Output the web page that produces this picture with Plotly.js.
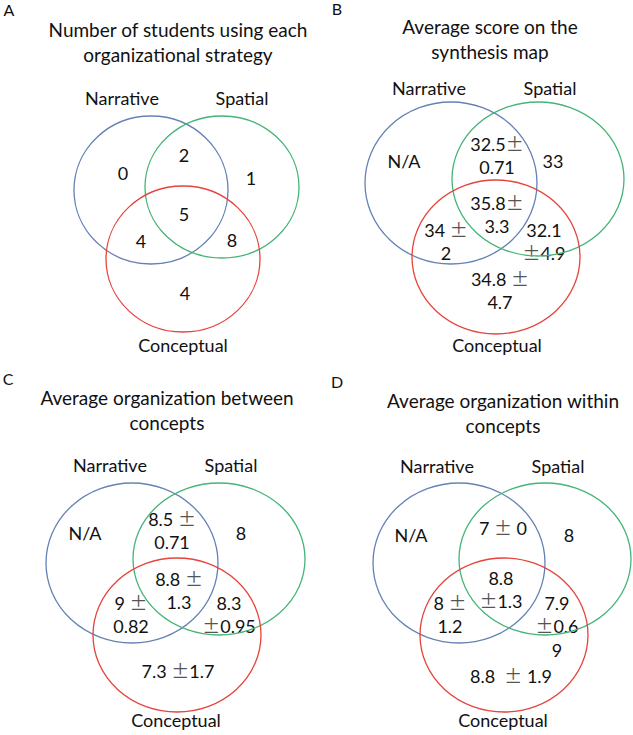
<!DOCTYPE html>
<html><head><meta charset="utf-8">
<script src="https://cdn.plot.ly/plotly-3.0.1.min.js"></script>
<style>html,body{margin:0;padding:0;background:#fff}#chart{width:633px;height:735px}</style>
</head><body><div id="chart"></div>
<script>
// ---------------- DATA ----------------
const setNames = ['Narrative', 'Spatial', 'Conceptual'];
const panelLetters = ['A', 'B', 'C', 'D'];
const panelTitles = [
  'Number of students using each<br>organizational strategy',
  'Average score on the<br>synthesis map',
  'Average organization between<br>concepts',
  'Average organization within<br>concepts'
];
// regions: N only, S only, C only, N∩S, N∩C, S∩C, N∩S∩C
const regions = ['N', 'S', 'C', 'NS', 'NC', 'SC', 'NSC'];
const studentCounts = [0, 1, 4, 2, 4, 8, 5];
const scoreMean = [null, '33', '34.8', '32.5', '34', '32.1', '35.8'];
const scoreSD   = [null, null, '4.7', '0.71', '2', '4.9', '3.3'];
const betweenMean = [null, '8', '7.3', '8.5', '9', '8.3', '8.8'];
const betweenSD   = [null, null, '1.7', '0.71', '0.82', '0.95', '1.3'];
const withinMean = [null, '8', '8.8', '7', '8', '7.9', '8.8'];
const withinSD   = [null, null, '1.9', '0', '1.2', '0.69', '1.3'];

// ---------------- LAYOUT (geometry, formatting) ----------------
const PM = '<span style="font-family:\'Noto Sans CJK JP\';color:#555">\u00B1</span>';
const fmt = {
  plain: (m, s) => String(m),
  na: (m, s) => 'N/A',
  brAfter: (m, s) => m + PM + '<br>' + s,
  brAfterSp: (m, s) => m + ' ' + PM + '<br>' + s,
  brBefore: (m, s) => m + '<br>' + PM + s,
  inline: (m, s) => m + ' ' + PM + s,
  inlineSp: (m, s) => m + ' ' + PM + ' ' + s,
  inlineSp2: (m, s) => m + '  ' + PM + ' ' + s,
  wrap3: (m, s) => m + '<br>' + PM + s.slice(0, 3) + '<br>' + s.slice(3)
};

const panels = [
  { // A
    letter: [9, 12], title: [178, 45], labels: [[122, 100], [242, 100], [183, 347]],
    circles: [[151, 190, 77, 74], [222, 187, 77, 71], [183, 259, 77, 73]],
    mean: studentCounts, sd: studentCounts.map(() => null),
    forms: ['plain', 'plain', 'plain', 'plain', 'plain', 'plain', 'plain'],
    pos: [[123, 175], [251, 180], [185, 295], [184, 157], [141, 243], [232, 242], [184, 216]]
  },
  { // B
    letter: [337, 11], title: [490, 42], labels: [[429, 90], [550, 90], [497, 347]],
    circles: [[451, 183, 86, 81], [538, 179, 86, 77], [496, 257, 84, 77]],
    mean: scoreMean, sd: scoreSD,
    forms: ['na', 'plain', 'brAfterSp', 'brAfter', 'brAfterSp', 'brBefore', 'brAfter'],
    pos: [[404, 163], [553, 163], [500, 293], [497, 158], [446, 244], [544, 244], [497, 217]]
  },
  { // C
    letter: [8, 381], title: [167, 413], labels: [[110, 467], [231, 467], [176, 722]],
    circles: [[132, 563, 86, 80], [219, 559, 86, 76], [177, 635, 84, 77]],
    mean: betweenMean, sd: betweenSD,
    forms: ['na', 'plain', 'inline', 'brAfterSp', 'brAfterSp', 'brBefore', 'brAfterSp'],
    pos: [[85, 535], [241, 535], [178, 673], [172, 533], [131, 617], [229, 617], [179, 593]]
  },
  { // D
    letter: [337, 384], title: [503, 416], labels: [[437, 468], [558, 468], [503, 722]],
    circles: [[459, 563, 86, 80], [545, 559, 86, 76], [504, 635, 84, 77]],
    mean: withinMean, sd: withinSD,
    forms: ['na', 'plain', 'inlineSp2', 'inlineSp', 'brAfterSp', 'wrap3', 'brBefore'],
    pos: [[411, 537], [569, 537], [511, 678], [503, 530], [450, 617], [557, 629], [501, 592]]
  }
];

const colors = ['#6482B4', '#45B477', '#E6433B'];
const FONT = 'Lato, "Open Sans", "Noto Sans CJK SC", sans-serif';
const TXT = '#111';

const traces = [];
const shapes = [];
panels.forEach((p, pi) => {
  p.circles.forEach((c, ci) => {
    shapes.push({ type: 'circle', xref: 'x', yref: 'y',
      x0: c[0] - c[2], x1: c[0] + c[2], y0: c[1] - c[3], y1: c[1] + c[3],
      line: { color: colors[ci], width: 1.3 }, fillcolor: 'rgba(0,0,0,0)', layer: 'above' });
  });
  traces.push({
    type: 'scatter', mode: 'text', hoverinfo: 'skip', showlegend: false,
    x: p.pos.map(q => q[0]), y: p.pos.map(q => q[1]),
    text: regions.map((r, ri) => fmt[p.forms[ri]](p.mean[ri], p.sd[ri])),
    textposition: 'middle center',
    textfont: { family: FONT, size: 18, color: TXT }
  });
  traces.push({
    type: 'scatter', mode: 'text', hoverinfo: 'skip', showlegend: false,
    x: p.labels.map(q => q[0]), y: p.labels.map(q => q[1]),
    text: setNames, textposition: 'middle center',
    textfont: { family: FONT, size: 18, color: TXT }
  });
  traces.push({
    type: 'scatter', mode: 'text', hoverinfo: 'skip', showlegend: false,
    x: [p.title[0]], y: [p.title[1]], text: [panelTitles[pi]], textposition: 'middle center',
    textfont: { family: FONT, size: 19, color: TXT }
  });
  traces.push({
    type: 'scatter', mode: 'text', hoverinfo: 'skip', showlegend: false,
    x: [p.letter[0]], y: [p.letter[1]], text: [panelLetters[pi]], textposition: 'middle center',
    textfont: { family: FONT, size: 16, color: TXT }
  });
});

const layout = {
  width: 633, height: 735,
  margin: { l: 0, r: 0, t: 0, b: 0 },
  paper_bgcolor: '#fff', plot_bgcolor: '#fff',
  xaxis: { range: [0, 633], visible: false, fixedrange: true },
  yaxis: { range: [735, 0], visible: false, fixedrange: true },
  shapes: shapes,
  showlegend: false
};
Plotly.newPlot('chart', traces, layout, { staticPlot: true, displayModeBar: false });
</script></body></html>
